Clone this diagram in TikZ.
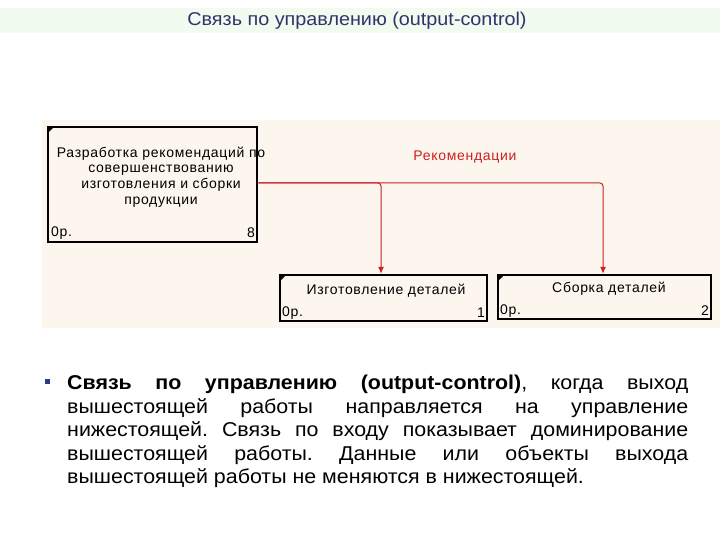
\documentclass[tikz,border=0pt]{standalone}
\usepackage{fontspec}
\setmainfont{Liberation Sans}
\newfontfamily\diafont[LetterSpace=5]{Liberation Sans}
\usetikzlibrary{arrows.meta}
\definecolor{titlebg}{HTML}{F1FBF0}
\definecolor{titlefg}{HTML}{33336B}
\definecolor{diabg}{HTML}{FDF6EE}
\definecolor{arrowred}{HTML}{CC2020}
\definecolor{bulletc}{HTML}{2B3A8F}
\begin{document}
\begin{tikzpicture}[x=1pt,y=-1pt,
  func/.style={draw=black, line width=2.5pt, fill=diabg, inner sep=0pt},
  diatext/.style={font=\diafont\fontsize{14}{15.7}\selectfont, inner sep=0pt},
  conn/.style={draw=arrowred, line width=1pt, rounded corners=3pt},
  tip/.style={-{Latex[length=7pt,width=6pt]}},
  corner/.style={fill=black}
]
\useasboundingbox (0,0) rectangle (720,540);
\fill[white] (0,0) rectangle (720,540);
\fill[titlebg] (0,8) rectangle (720,33);
\node[font=\fontsize{18.5}{20}\selectfont, text=titlefg, xscale=1.07, inner sep=0pt] (title) at (357,21) {Связь по управлению (output-control)};
\fill[diabg] (42,120) rectangle (720,328);

% boxes
\node[func, minimum width=209pt, minimum height=115pt] (box1) at (152.5,184.5) {};
\node[func, minimum width=207pt, minimum height=46pt] (box2) at (383.5,298) {};
\node[func, minimum width=213pt, minimum height=44pt] (box3) at (604.5,297) {};
\foreach \b in {box1,box2,box3}{
  \fill[corner] ([xshift=1.25pt,yshift=-1.25pt]\b.north west) -- ++(6,0) -- ++(-6,6) -- cycle;
}

% box texts
\node[diatext, align=center] (t1) at (161,177) {Разработка рекомендаций по\\совершенствованию\\изготовления и сборки\\продукции};
\node[diatext, anchor=west] (c1) at (51,233) {0р.};
\node[diatext, anchor=east] (n1) at (255,233) {8};
\node[diatext] (t2) at (386,291) {Изготовление деталей};
\node[diatext, anchor=west] (c2) at (282,313) {0р.};
\node[diatext, anchor=east] (n2) at (485,313) {1};
\node[diatext] (t3) at (609,289) {Сборка деталей};
\node[diatext, anchor=west] (c3) at (500,311) {0р.};
\node[diatext, anchor=east] (n3) at (709,311) {2};

% connectors
\coordinate (j1) at (381,183);
\coordinate (j2) at (603,183);
\draw[conn, tip] (box1.east |- j1) -- (j2) -- (box3.north -| j2);
\draw[conn, tip] (box1.east |- j1) -- (j1) -- (box2.north -| j1);
\node[diatext, text=arrowred] (lab) at (465,157) {Рекомендации};

% bullet text
\fill[bulletc] (45,378.5) rectangle (50,383.5);
\node[anchor=north west, inner sep=0pt, text width=580.4pt, align=justify, xscale=1.07,
      font=\fontsize{20}{23.5}\selectfont] (body) at (67,375)
{\frenchspacing\textbf{Связь по управлению (output-control)}, когда выход\linebreak
вышестоящей работы направляется на управление\linebreak
нижестоящей. Связь по входу показывает доминирование\linebreak
вышестоящей работы. Данные или объекты выхода\linebreak
вышестоящей работы не меняются в нижестоящей.};
\end{tikzpicture}
\end{document}
